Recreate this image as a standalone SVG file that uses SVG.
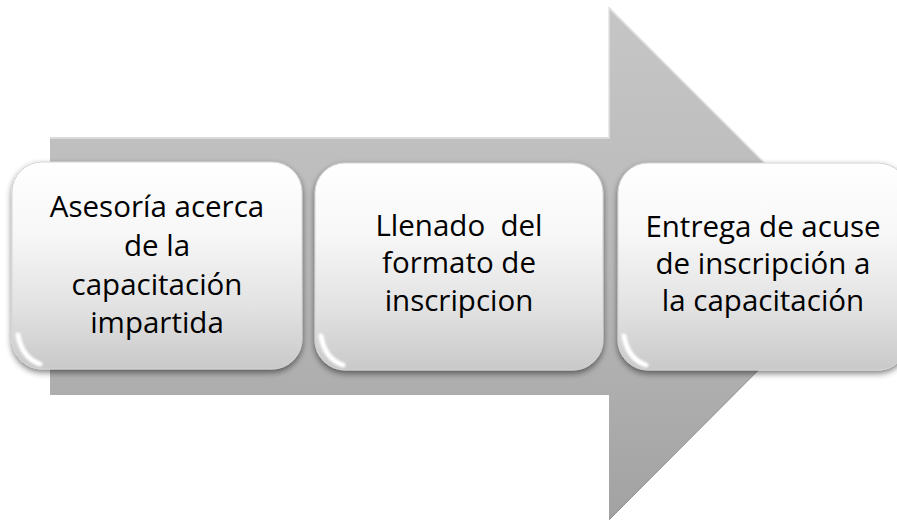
<svg xmlns="http://www.w3.org/2000/svg" width="897" height="521" viewBox="0 0 897 521">
  <defs>
    <linearGradient id="arrowGrad" x1="0" y1="0" x2="0" y2="1">
      <stop offset="0" stop-color="#c6c6c6"/>
      <stop offset="0.5" stop-color="#b9b9b9"/>
      <stop offset="1" stop-color="#a2a2a2"/>
    </linearGradient>
    <linearGradient id="boxGrad" x1="0" y1="0" x2="0" y2="1">
      <stop offset="0" stop-color="#ffffff"/>
      <stop offset="0.35" stop-color="#f7f7f7"/>
      <stop offset="0.7" stop-color="#e2e2e2"/>
      <stop offset="1" stop-color="#c9c9c9"/>
    </linearGradient>
    <filter id="shadow" x="-10%" y="-10%" width="120%" height="130%">
      <feGaussianBlur in="SourceAlpha" stdDeviation="3"/>
      <feOffset dx="0" dy="3" result="b"/>
      <feComponentTransfer><feFuncA type="linear" slope="0.5"/></feComponentTransfer>
      <feMerge><feMergeNode/><feMergeNode in="SourceGraphic"/></feMerge>
    </filter>
    <filter id="soft" x="-20%" y="-20%" width="140%" height="140%">
      <feGaussianBlur stdDeviation="1.2"/>
    </filter>
  </defs>
  <style>
    .box { fill: url(#boxGrad); stroke: #d4d4d4; stroke-width: 1; filter: url(#shadow); }
    .gloss { fill: none; stroke: #ffffff; stroke-width: 5; stroke-linecap: round; filter: url(#soft); }
    .label { font-family: "Open Sans", "Liberation Sans", sans-serif; font-size: 29.5px; fill: #000000; text-anchor: middle; }
  </style>
  <rect width="897" height="521" fill="#ffffff"/>
  <g id="arrow">
    <polygon points="50,137 609,137 609,7 865,263 609,520 609,395 50,395" fill="url(#arrowGrad)"/>
    <polyline points="50,138 609,138 609,8 865,263" fill="none" stroke="#e2e2e2" stroke-width="1.5"/>
    <polyline points="865,263 609,520" fill="none" stroke="#8f8f8f" stroke-width="1"/>
  </g>
  <g id="node1">
    <rect class="box" x="12" y="162" width="290" height="207" rx="30" ry="30"/>
    <path class="gloss" d="M18,335 Q22,358 40,364"/>
    <text class="label" x="157" y="217">Asesoría acerca</text>
    <text class="label" x="157" y="256">de la</text>
    <text class="label" x="157" y="295">capacitación</text>
    <text class="label" x="157" y="333">impartida</text>
  </g>
  <g id="node2">
    <rect class="box" x="315" y="163" width="288" height="207" rx="30" ry="30"/>
    <path class="gloss" d="M321,336 Q325,359 343,365"/>
    <text class="label" x="459" y="236" xml:space="preserve">Llenado  del</text>
    <text class="label" x="459" y="273">formato de</text>
    <text class="label" x="459" y="311">inscripcion</text>
  </g>
  <g id="node3">
    <rect class="box" x="618" y="163" width="290" height="207" rx="30" ry="30"/>
    <path class="gloss" d="M624,336 Q628,359 646,365"/>
    <text class="label" x="763" y="237">Entrega de acuse</text>
    <text class="label" x="763" y="274">de inscripción a</text>
    <text class="label" x="763" y="311">la capacitación</text>
  </g>
  <g id="connectors"/>
</svg>
